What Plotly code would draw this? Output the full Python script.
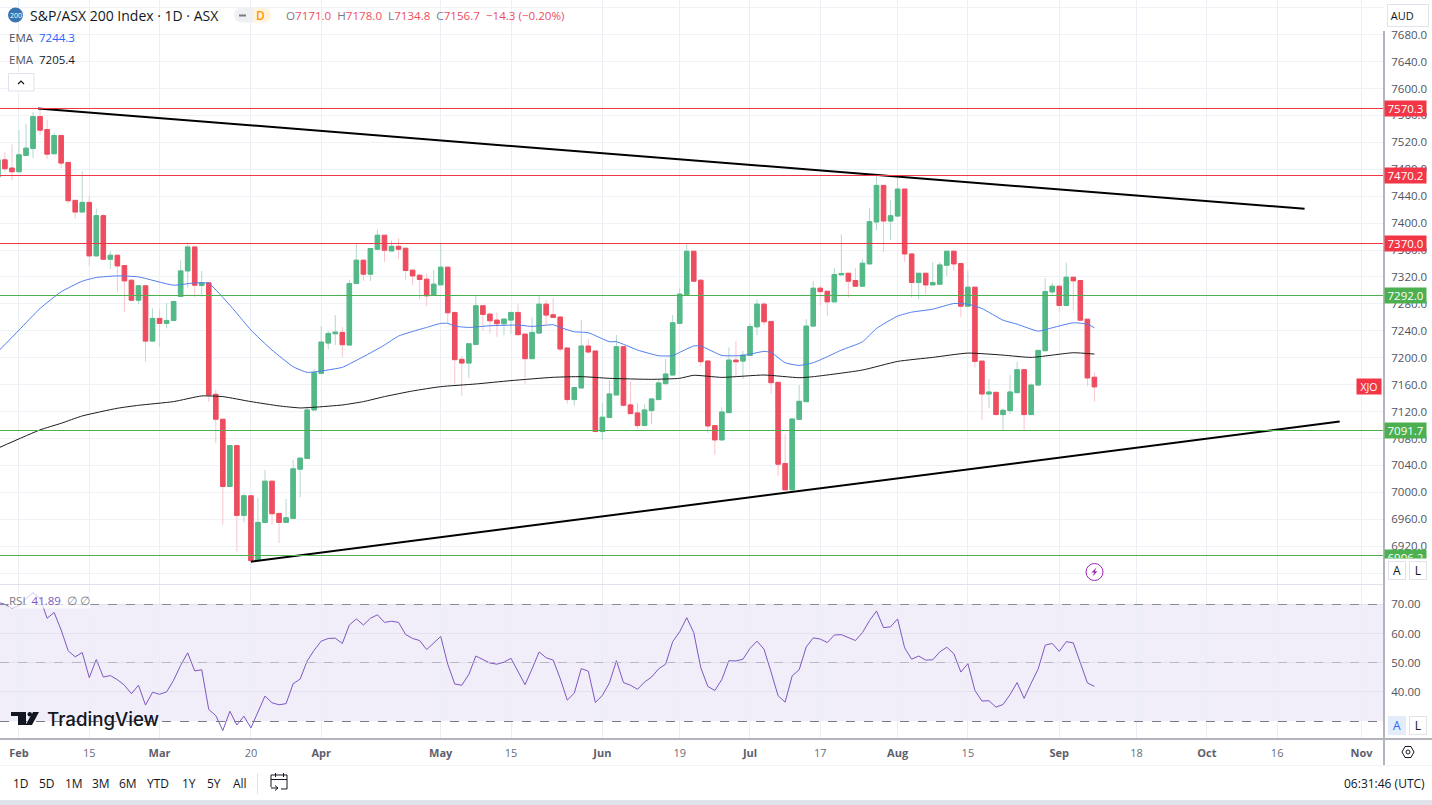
import plotly.graph_objects as go

# ---------- data ----------
bar_index = list(range(-3, 154))
open_ = [7468.4,7494.0,7481.8,7476.3,7500.6,7510.9,7558.4,7539.1,7503.0,7530.2,
 7490.2,7433.8,7416.5,7430.8,7351.3,7411.1,7346.3,7352.3,7336.9,7315.2,
 7285.5,7306.8,7224.7,7258.4,7251.0,7255.4,7291.0,7329.0,7364.6,7307.3,
 7311.3,7145.7,7108.6,7008.7,7069.5,6965.7,6994.9,6898.5,6955.3,7016.6,
 6968.7,6955.3,6961.3,7034.4,7050.3,7122.4,7176.8,7221.8,7235.6,7237.6,
 7218.8,7310.3,7344.9,7324.1,7361.2,7382.0,7358.7,7365.6,7362.7,7330.1,
 7322.6,7316.7,7292.5,7308.3,7334.5,7267.3,7197.6,7192.1,7219.8,7277.2,
 7264.8,7255.9,7250.5,7255.9,7267.3,7235.1,7198.6,7236.6,7279.6,7263.8,
 7260.4,7214.4,7137.8,7155.1,7217.4,7210.0,7090.3,7111.1,7144.7,7216.4,
 7129.9,7118.0,7099.2,7121.5,7137.8,7161.5,7174.3,7251.0,7294.0,7358.2,
 7315.2,7195.1,7099.1,7077.9,7118.4,7196.5,7195.0,7203.4,7245.9,7279.6,
 7253.9,7163.4,7042.8,7003.7,7108.5,7134.7,7247.0,7303.3,7298.8,7283.0,
 7323.1,7325.5,7314.7,7306.3,7339.4,7401.7,7456.0,7403.1,7410.5,7450.6,
 7354.2,7311.7,7325.5,7308.2,7309.2,7337.4,7358.2,7339.9,7276.6,7304.8,
 7195.0,7146.1,7148.6,7115.5,7121.4,7148.1,7182.2,7115.5,7159.4,7210.4,
 7297.8,7306.3,7277.6,7319.6,7314.7,7257.3,7171.0]
close = [7494.1,7480.8,7476.3,7501.5,7511.4,7558.4,7538.1,7502.5,7530.2,7489.2,
 7433.3,7416.5,7430.8,7351.3,7411.1,7346.3,7352.3,7336.4,7314.2,7285.5,
 7306.8,7224.7,7258.4,7251.0,7255.4,7283.6,7329.0,7364.6,7307.8,7311.3,
 7144.7,7108.6,7008.7,7069.5,6965.7,6994.9,6898.5,6955.3,7016.6,6968.2,
 6955.3,6962.3,7034.9,7050.8,7122.4,7177.8,7223.3,7236.1,7238.1,7219.3,
 7310.3,7344.9,7324.1,7362.2,7382.0,7359.7,7365.6,7361.2,7329.6,7321.6,
 7316.2,7292.0,7309.3,7334.5,7266.8,7197.1,7192.1,7220.8,7277.2,7264.3,
 7254.9,7250.5,7257.4,7267.3,7234.2,7198.6,7237.6,7279.6,7263.3,7259.9,
 7212.9,7137.8,7155.6,7217.4,7208.5,7090.3,7111.6,7146.2,7216.4,7129.4,
 7117.0,7099.2,7122.4,7138.8,7162.5,7175.8,7252.0,7294.5,7358.2,7313.7,
 7194.1,7098.7,7077.9,7119.4,7196.5,7194.0,7203.9,7246.4,7279.6,7253.4,
 7162.9,7041.8,7003.7,7109.0,7135.2,7247.0,7303.3,7298.3,7283.0,7323.6,
 7325.1,7313.7,7306.3,7340.4,7402.1,7456.0,7403.1,7411.0,7450.6,7354.2,
 7311.7,7325.5,7308.2,7311.7,7337.9,7358.2,7339.4,7276.6,7304.8,7194.5,
 7146.1,7149.1,7115.5,7121.9,7149.1,7182.2,7115.5,7159.4,7210.9,7298.3,
 7306.3,7277.6,7319.6,7314.2,7255.8,7170.0,7156.7]
high = [7498.1,7505.5,7516.9,7538.6,7547.5,7564.8,7569.3,7553.4,7534.2,7530.2,
 7490.2,7433.8,7476.8,7440.2,7421.5,7414.0,7358.2,7352.3,7336.9,7315.2,
 7307.8,7306.8,7273.2,7271.7,7281.6,7283.6,7344.9,7371.0,7364.6,7329.0,
 7311.3,7152.1,7108.6,7069.5,7069.5,6997.9,6994.9,6991.4,7033.4,7016.6,
 6968.7,6990.0,7048.3,7052.2,7127.4,7182.7,7247.0,7240.1,7263.3,7246.0,
 7316.0,7369.6,7344.9,7362.2,7390.9,7382.0,7374.5,7377.5,7362.7,7332.0,
 7325.1,7325.1,7330.1,7369.6,7336.0,7267.3,7202.5,7220.8,7293.0,7277.2,
 7266.8,7267.3,7257.4,7267.3,7279.6,7235.1,7259.9,7293.0,7285.6,7288.5,
 7260.4,7214.4,7155.6,7255.9,7227.7,7210.0,7132.8,7166.9,7233.7,7216.4,
 7164.5,7132.8,7131.3,7138.8,7166.9,7198.1,7263.3,7302.9,7369.6,7358.2,
 7315.2,7196.6,7099.1,7126.3,7215.3,7224.7,7209.9,7250.9,7286.5,7283.0,
 7253.9,7163.4,7086.3,7109.0,7159.4,7257.3,7313.7,7307.7,7298.8,7333.4,
 7383.4,7325.5,7333.4,7346.3,7421.9,7470.4,7456.0,7433.8,7470.4,7450.6,
 7354.2,7325.5,7325.5,7342.3,7342.3,7358.2,7361.1,7339.9,7329.0,7304.8,
 7195.0,7168.4,7148.6,7124.8,7174.3,7194.0,7182.2,7161.9,7210.9,7318.1,
 7311.2,7306.3,7341.3,7319.6,7314.7,7257.3,7178.0]
low = [7466.0,7475.8,7463.5,7476.3,7500.6,7496.6,7531.2,7495.1,7503.0,7481.8,
 7428.9,7406.6,7416.5,7336.9,7351.3,7346.3,7332.0,7297.9,7268.2,7284.5,
 7279.6,7194.1,7224.7,7216.3,7243.5,7255.4,7291.0,7304.3,7290.5,7290.5,
 7134.8,7073.0,6951.9,7008.7,6912.3,6955.3,6897.5,6898.5,6955.3,6951.9,
 6924.7,6955.3,6961.3,6992.7,7050.3,7122.4,7176.8,7212.4,7218.8,7200.5,
 7218.8,7310.3,7314.2,7314.2,7361.2,7342.4,7358.7,7346.9,7315.2,7307.8,
 7286.6,7276.7,7292.5,7308.3,7251.0,7161.0,7143.2,7169.4,7219.8,7240.1,
 7236.1,7231.2,7233.7,7235.1,7234.2,7160.5,7198.6,7236.6,7249.0,7259.9,
 7209.0,7131.3,7128.9,7155.1,7206.5,7090.3,7078.0,7111.1,7144.7,7127.4,
 7117.0,7093.8,7099.2,7101.7,7137.8,7159.0,7174.3,7250.0,7294.0,7313.7,
 7187.7,7087.8,7055.6,7077.9,7118.4,7171.8,7167.8,7203.4,7233.6,7248.4,
 7146.1,7024.5,7003.7,7003.7,7108.5,7134.7,7247.0,7278.1,7262.3,7283.0,
 7323.1,7289.4,7306.3,7306.3,7339.4,7389.3,7357.2,7374.5,7410.5,7342.3,
 7289.4,7286.5,7294.4,7308.2,7309.2,7321.6,7329.0,7260.8,7276.6,7185.6,
 7107.5,7124.8,7115.5,7091.7,7116.4,7148.1,7092.7,7115.5,7159.4,7210.4,
 7293.9,7268.2,7277.6,7270.7,7254.3,7158.0,7134.8]

ema_fast_idx = [-3,0,3,6,9,11,14,17,22,25,27,30,32,33,36,39,41,43,46,47,49,52,54,57,58,60,61,62,64,67,71,73,76,77,79,81,84,85,88,91,93,94,96,97,100,103,106,107,109,111,113,115,117,120,122,125,127,130,133,135,137,140,142,145,147,150,152,153]
ema_fast = [7209,7241,7273.2,7297.9,7313.7,7319.2,7321.6,7320.1,7307.8,7311.2,7310.3,7278.1,7253.4,7241,7211.4,7186.7,7178.3,7180.3,7185.7,7190.7,7201.5,7218.8,7232.2,7242.1,7245,7251,7251,7247,7245,7247.5,7248.5,7246.5,7249,7245,7238.6,7237.1,7223.8,7223.8,7211.4,7203,7203,7208,7217.4,7217.4,7203.4,7203.4,7209.4,7207.9,7192.6,7188.6,7192.6,7201.5,7211.3,7223.7,7243.5,7261.8,7267.7,7272.1,7280.5,7279.6,7273.1,7255.8,7249.9,7239.5,7244.5,7251.9,7249.9,7244.3]
ema_slow_idx = [-3,3,6,9,14,17,22,26,29,33,37,40,42,46,49,52,56,60,65,70,76,80,84,90,94,96,100,106,111,113,120,125,130,135,140,144,150,153]
ema_slow = [7065.6,7092.8,7102.6,7113.5,7124.9,7129.3,7134.8,7143.2,7142.2,7134.8,7128.4,7125.4,7126.4,7129.8,7134.8,7142.2,7150.6,7157,7161,7166,7170.9,7171.9,7169.4,7167.9,7169.4,7173.9,7170.8,7174.3,7170.3,7171.8,7181.7,7194.5,7200.5,7206.9,7203.9,7200.5,7207.4,7205.4]

rsi = [70.7,70.0,68.6,69.5,72.0,73.9,72.1,65.2,67.2,61.2,54.1,52.0,53.5,44.9,51.1,45.1,45.6,44.2,42.3,39.4,
 42.3,35.5,39.9,39.2,40.0,44.0,49.1,53.4,47.2,47.6,34.0,31.9,26.8,33.4,28.7,31.7,27.7,33.1,38.6,36.3,
 35.6,36.0,42.8,44.4,50.6,54.3,57.4,58.3,58.4,56.6,62.9,65.0,62.9,65.2,66.4,63.8,64.2,63.8,59.7,58.3,
 57.6,54.5,56.6,59.0,49.5,42.7,42.3,46.0,52.3,51.1,49.9,49.5,50.2,51.5,47.1,42.5,47.9,53.7,51.7,50.9,
 44.6,37.2,39.6,48.0,47.1,36.4,38.8,43.1,50.7,43.2,42.3,40.9,43.4,45.1,47.9,49.5,57.2,60.6,65.4,60.3,
 48.3,41.9,40.5,44.3,50.7,50.6,51.2,54.9,57.4,54.6,46.8,38.7,36.5,45.5,47.6,55.4,58.5,58.1,56.9,59.5,
 59.6,58.5,57.6,60.3,64.4,67.7,62.0,62.3,65.0,55.1,51.2,52.3,50.9,51.0,53.7,55.3,53.1,46.8,49.7,40.5,
 36.9,37.0,34.8,35.7,39.1,43.2,37.8,43.0,47.9,56.0,56.6,53.9,57.2,56.8,50.2,43.1,41.89]

red_levels = [7570.3, 7470.2, 7370.0]
green_levels = [7292.0, 7091.7, 6906.2]
upper_trend_idx = [2.7, 182.9]
upper_trend = [7570.3, 7421.2]
lower_trend_idx = [33.0, 187.9]
lower_trend = [6897.0, 7105.3]

time_tick_idx = [0,10,20,33,43,60,70,83,94,104,114,125,135,148,159,169,179,191]
time_tick_txt = ["Feb","15","Mar","20","Apr","May","15","Jun","19","Jul","17","Aug","15","Sep","18","Oct","16","Nov"]
price_ticks = list(range(6880, 7721, 40))
hidden_price_labels = [6880, 7720]
rsi_ticks = [40, 50, 60, 70]
range_buttons = ["1D","5D","1M","3M","6M","YTD","1Y","5Y","All"]
range_button_px = [21,47,74,101,128,158,189,214,240]

# ---------- colours ----------
UP, DOWN = "#53b987", "#ee4d5f"
UP_W, DOWN_W = "#b5d8cb", "#f8c5cb"
RED, GREEN = "#f23645", "#4caf50"
GRID = "#eef2f6"
TXT = "#50535e"
FONT = "Open Sans"

W, H = 1432, 805
AXIS_PX = 1384
X = lambda p: p / W
Y = lambda p: 1 - p / H
xfrac = AXIS_PX / W

fig = go.Figure()

# candles: wick layer (pale) then solid body layer
fig.add_trace(go.Candlestick(x=bar_index, open=open_, high=high, low=low, close=close,
    increasing=dict(line=dict(color=UP_W, width=1), fillcolor=UP_W),
    decreasing=dict(line=dict(color=DOWN_W, width=1), fillcolor=DOWN_W),
    whiskerwidth=0, hoverinfo="skip", showlegend=False, xaxis="x", yaxis="y"))
fig.add_trace(go.Candlestick(x=bar_index, open=open_,
    high=[max(a, b) for a, b in zip(open_, close)],
    low=[min(a, b) for a, b in zip(open_, close)], close=close,
    increasing=dict(line=dict(color=UP, width=1), fillcolor=UP),
    decreasing=dict(line=dict(color=DOWN, width=1), fillcolor=DOWN),
    whiskerwidth=0, hoverinfo="skip", showlegend=False, xaxis="x", yaxis="y"))

def line(xs, ys, color, width, yaxis="y", spline=False):
    ln = dict(color=color, width=width)
    if spline:
        ln.update(shape="spline", smoothing=0.5)
    fig.add_trace(go.Scatter(x=xs, y=ys, mode="lines", line=ln,
                             hoverinfo="skip", showlegend=False, xaxis="x", yaxis=yaxis))

line(ema_fast_idx, ema_fast, "#4f7df0", 1, spline=True)
line(ema_slow_idx, ema_slow, "#1b1b1b", 1, spline=True)
line(upper_trend_idx, upper_trend, "#000000", 2)
line(lower_trend_idx, lower_trend, "#000000", 2)
line(bar_index, rsi, "#7e57c2", 1, "y2")

shapes, annos = [], []

def hline(y, color, width=1, dash="solid", yref="y", layer="above"):
    shapes.append(dict(type="line", xref="paper", yref=yref, x0=0, x1=xfrac, y0=y, y1=y,
                       line=dict(color=color, width=width, dash=dash), layer=layer))

for v in red_levels:
    hline(v, RED)
for v in green_levels:
    hline(v, GREEN)

# RSI band and levels
shapes.append(dict(type="rect", xref="paper", yref="y2", x0=0, x1=xfrac, y0=30, y1=70,
                   fillcolor="rgba(126,87,194,0.1)", line=dict(width=0), layer="below"))
hline(70, "#8a8d98", dash="dash", yref="y2")
hline(50, "#b9b6c6", dash="dash", yref="y2")
hline(30, "#787b86", dash="dash", yref="y2")

def pxline(x0, y0, x1, y1, color, width=1):
    shapes.append(dict(type="line", xref="paper", yref="paper", x0=X(x0), x1=X(x1), y0=Y(y0), y1=Y(y1),
                       line=dict(color=color, width=width)))

def pxrect(x0, y0, x1, y1, fill, border=None, kind="rect"):
    shapes.append(dict(type=kind, xref="paper", yref="paper", x0=X(x0), x1=X(x1), y0=Y(y0), y1=Y(y1),
                       fillcolor=fill, line=dict(color=border or fill, width=1 if border else 0)))

def pxpath(points, fill=None, color=None, width=1, close_=True):
    d = "M " + " L ".join(f"{X(a):.5f},{Y(b):.5f}" for a, b in points) + (" Z" if close_ else "")
    shapes.append(dict(type="path", path=d, xref="paper", yref="paper",
                       fillcolor=fill or "rgba(0,0,0,0)",
                       line=dict(color=color or "rgba(0,0,0,0)", width=width if color else 0)))

def text(x, y, s, color=TXT, size=12, anchor="left", **kw):
    annos.append(dict(xref="paper", yref="paper", x=X(x), y=Y(y), text=s, showarrow=False,
                      xanchor=anchor, yanchor="middle", borderpad=0,
                      font=dict(color=color, size=size, family=kw.pop("family", FONT), weight=kw.pop("weight", 400)), **kw))

# frame lines
pxline(0, 584.5, AXIS_PX, 584.5, "#e0e3eb")
pxline(0, 739, W, 739, "#b2b5be", 2)
pxline(0, 765.5, W, 765.5, "#f0f3fa")
pxline(1383.5, 31, 1383.5, 765, "#b2b5be", 2)
pxrect(0, 800, W, 805, "#e0e3eb")

# level labels on the price scale
for v in red_levels + green_levels[:2]:
    col = RED if v in red_levels else GREEN
    annos.append(dict(xref="paper", yref="y", x=X(1384), y=v, text=f"{v:.1f}", showarrow=False,
                      xanchor="left", yanchor="middle", width=41, height=15, bgcolor=col,
                      font=dict(color="#ffffff", size=11.5, family=FONT), borderpad=0))
# the lowest level's tag runs under the pane's buttons: only its upper part shows
annos.append(dict(xref="paper", yref="paper", x=X(1384), y=Y(549), text=f"{green_levels[2]:.1f}", showarrow=False,
                  xanchor="left", yanchor="top", width=41, height=8, valign="top", bgcolor=GREEN,
                  font=dict(color="#ffffff", size=11.5, family=FONT), borderpad=0))

def btn(cx, cy, s, color="#131722", bg="#ffffff", border="#e0e3eb"):
    text(cx, cy, s, color=color, size=12, anchor="center", width=16, height=17, bgcolor=bg,
         bordercolor=border, borderwidth=1)

btn(1397, 570, "A"); btn(1418, 570, "L")
btn(1397, 725, "A", color="#2962ff", bg="#e3ecfb", border="#e3ecfb"); btn(1418, 725, "L")

# XJO tag
annos.append(dict(xref="paper", yref="y", x=X(1382), y=7156.7, text="XJO", showarrow=False, xanchor="right",
                  yanchor="middle", width=24, height=15, bgcolor=RED,
                  font=dict(color="#ffffff", size=10.5, family=FONT), borderpad=0))

# AUD selector
text(1408, 15.5, "AUD    ", color="#131722", size=11, anchor="center", width=40, height=21, bgcolor="#ffffff",
     bordercolor="#e0e3eb", borderwidth=1)
pxpath([(1419, 14), (1421.5, 16.5), (1424, 14)], color="#131722", width=1, close_=False)

# header
pxrect(8, 7.5, 23, 22.5, "#3975b0", kind="circle")
text(15.5, 15, "200", color="#ffffff", size=7, anchor="center")
text(29, 15, "S&amp;P/ASX 200 Index · 1D · ASX", color="#131722", size=14)
pxrect(234, 7.5, 249, 22.5, "#eef0f4", kind="circle")
pxrect(241, 7.5, 253, 22.5, "#eef0f4")
pxrect(253, 7.5, 264, 22.5, "#fff3e0")
pxrect(256, 7.5, 271, 22.5, "#fff3e0", kind="circle")
pxpath([(239, 15.5), (246, 15.5)], color="#787b86", width=2, close_=False)
text(260, 15, "D", color="#ff9800", size=12, anchor="center", weight=600)
G = "#787b86"
def ohlc(letter, val):
    return f'<span style="color:{G}">{letter}</span><span style="color:{DOWN}">{val}</span>'
text(285, 15, "  ".join([ohlc("O", "7171.0"), ohlc("H", "7178.0"), ohlc("L", "7134.8"), ohlc("C", "7156.7"),
                         f'<span style="color:{DOWN}">−14.3 (−0.20%)</span>']), size=11.6)
text(8, 37.5, "EMA", color=TXT, size=11.5)
text(38, 37.5, "7244.3", color="#2962ff", size=11.5)
text(8, 59.5, "EMA", color=TXT, size=11.5)
text(38, 59.5, "7205.4", color="#131722", size=11.5)
pxrect(8.5, 73.5, 34, 91, "#ffffff", "#e0e3eb")
pxpath([(18, 84), (21, 81), (24, 84)], color="#131722", width=1.2, close_=False)

# RSI legend
text(8, 600, f'<span style="color:{G}">RSI</span> <span style="color:#7e57c2"> 41.89</span>'
             f'<span style="color:{G}">  ∅ ∅</span>', size=11.5, bgcolor="rgba(255,255,255,0.7)")

# lightning marker
pxrect(1086, 563.5, 1103, 580.5, "rgba(255,255,255,0)", "#9c27b0", kind="circle")
pxpath([(1096.5, 567.5), (1091.5, 572.5), (1094.3, 572.5), (1092.5, 576.5), (1097.5, 571.3), (1094.8, 571.3)], fill="#9c27b0")

# TradingView logo
pxpath([(11, 712), (26, 712), (26, 725), (18, 725), (18, 716), (11, 716)], fill="#131722")
pxrect(27.5, 712, 32, 716.5, "#131722", kind="circle")
pxpath([(33, 712), (39, 712), (32, 725), (25.5, 725)], fill="#131722")
text(46, 719, "TradingView", color="#131722", size=18.7, family="Inter", weight=500)

# bottom toolbar
for lab, bx in zip(range_buttons, range_button_px):
    text(bx, 783.5, lab, color="#131722", size=12, anchor="center")
pxline(257.5, 773, 257.5, 794, "#e0e3eb")
pxpath([(271, 787), (271, 775), (287, 775), (287, 789), (281, 789)], color="#131722", width=1, close_=False)
pxline(271, 779.5, 287, 779.5, "#131722")
pxline(275, 773, 275, 777, "#131722"); pxline(283, 773, 283, 777, "#131722")
pxpath([(271, 788), (278, 788)], color="#131722", close_=False)
pxpath([(275, 785.5), (278, 788), (275, 790.5)], color="#131722", close_=False)
text(1426, 783, "06:31:46 (UTC)", color="#131722", size=12, anchor="right")

# settings icon
pxpath([(1402, 752), (1405, 746.5), (1411, 746.5), (1414, 752), (1411, 757.5), (1405, 757.5)], color="#131722", width=1)
pxrect(1406, 750, 1410, 754, "rgba(0,0,0,0)", "#131722", kind="circle")

ticktext = []
for t in time_tick_txt:
    if t.isdigit():
        ticktext.append(f'<span style="color:#6a6d78">{t}</span>')
    else:
        ticktext.append(f'<b style="color:#5d606b">{t}</b>')

price_labels = ["" if v in hidden_price_labels else f"{v:.1f}" for v in price_ticks]

fig.update_layout(
    width=W, height=H, margin=dict(l=0, r=0, t=0, b=0), paper_bgcolor="#ffffff", plot_bgcolor="#ffffff",
    showlegend=False, boxgap=0.36, boxgroupgap=0, dragmode=False,
    font=dict(family=FONT, color=TXT, size=11),
    xaxis=dict(domain=[0, xfrac], range=[-2.70, 194.2], anchor="y2", tickmode="array", tickvals=time_tick_idx,
               ticktext=ticktext, showgrid=True, gridcolor="#e9eff5", gridwidth=1, zeroline=False,
               showline=False, ticks="outside", ticklen=4, tickcolor="rgba(0,0,0,0)",
               rangeslider=dict(visible=False), tickfont=dict(size=11, family=FONT)),
    yaxis=dict(domain=[Y(584), 1], range=[6863.8, 7731.5], side="right", anchor="x", tickmode="array",
               tickvals=price_ticks, ticktext=price_labels, showgrid=True, gridcolor=GRID, zeroline=False,
               showline=False, ticks="outside", ticklen=4, tickcolor="rgba(0,0,0,0)", tickfont=dict(size=11.5, family=FONT, color=TXT)),
    yaxis2=dict(domain=[Y(739), Y(585)], range=[23.9, 76.6], side="right", anchor="x", tickmode="array",
                tickvals=rsi_ticks, tickformat=".2f", showgrid=True, gridcolor="#e4e2ef", zeroline=False,
                showline=False, ticks="outside", ticklen=4, tickcolor="rgba(0,0,0,0)", tickfont=dict(size=11.5, family=FONT, color=TXT)),
    shapes=shapes, annotations=annos,
)

crisp = """
document.body.style.margin='0';document.documentElement.style.overflow='hidden';
function crispLines(){
  document.querySelectorAll('.shapelayer path').forEach(function(p){
    var d=p.getAttribute('d')||'';
    if(/^M[-\\d.,]+L[-\\d.,]+$/.test(d)){p.style.shapeRendering='crispEdges';}
  });
}
crispLines();setTimeout(crispLines,50);
"""
fig.write_html("out.html", config=dict(displayModeBar=False), post_script=crisp)
